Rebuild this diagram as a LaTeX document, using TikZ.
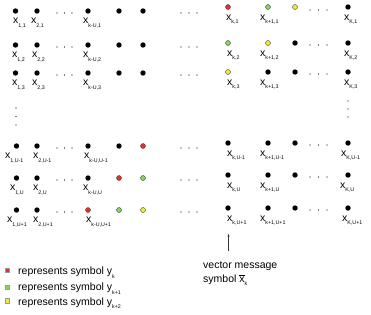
\documentclass[tikz,border=0pt]{standalone}
\usepackage{fontspec}
\setmainfont{Liberation Sans}
\usetikzlibrary{arrows.meta}
\definecolor{cred}{HTML}{E5302E}
\definecolor{cgreen}{HTML}{88D65C}
\definecolor{cyellow}{HTML}{EEEA3C}
\newcommand{\xl}[1]{x\raisebox{-3.5pt}{\fontsize{5.3}{5.3}\selectfont #1}}
\newcommand{\yl}[1]{y\raisebox{-3.5pt}{\fontsize{5.3}{5.3}\selectfont #1}}
\begin{document}
\begin{tikzpicture}[x=1pt,y=-1pt,
  bdot/.style={circle,fill=black,inner sep=0pt,minimum size=5.4pt},
  cdot/.style={circle,draw=black!75,line width=0.4pt,inner sep=0pt,minimum size=5pt},
  sdot/.style={circle,fill=black,inner sep=0pt,minimum size=1.4pt},
  lbl/.style={anchor=base west,inner sep=0pt,font=\fontsize{10.5}{12}\selectfont},
  legsq/.style={draw=black!40,line width=0.2pt,inner sep=0pt,minimum size=4.5pt},
  legtxt/.style={anchor=base west,inner sep=0pt,font=\fontsize{10.5}{12}\selectfont}]
\useasboundingbox (0,0) rectangle (371,314);
% ---- row 1
\node[bdot] (a1) at (15.5,11) {};
\node[bdot] (b1) at (37,11) {};
\node[bdot] (c1) at (88,11) {};
\node[bdot] (d1) at (119,11) {};
\node[bdot] (e1) at (143,11) {};
\node[cdot,fill=cred] (f1) at (228,7) {};
\node[cdot,fill=cgreen] (g1) at (268,7) {};
\node[cdot,fill=cyellow] (h1) at (295,7) {};
\node[bdot] (i1) at (348,7) {};
% ---- row 2
\node[bdot] (a2) at (15.5,45) {};
\node[bdot] (b2) at (37,45) {};
\node[bdot] (c2) at (88,45) {};
\node[bdot] (d2) at (119,45) {};
\node[bdot] (e2) at (143,45) {};
\node[cdot,fill=cgreen] (f2) at (228,43) {};
\node[cdot,fill=cyellow] (g2) at (268,43) {};
\node[bdot] (h2) at (295,43) {};
\node[bdot] (i2) at (348,43) {};
% ---- row 3
\node[bdot] (a3) at (15.5,73) {};
\node[bdot] (b3) at (37,73) {};
\node[bdot] (c3) at (88,73) {};
\node[bdot] (d3) at (119,73) {};
\node[bdot] (e3) at (143,73) {};
\node[cdot,fill=cyellow] (f3) at (228,72) {};
\node[bdot] (g3) at (268,72) {};
\node[bdot] (h3) at (295,72) {};
\node[bdot] (i3) at (348,72) {};
% ---- row U-1
\node[bdot] (a4) at (16.5,146) {};
\node[bdot] (b4) at (37,146) {};
\node[bdot] (c4) at (88,146) {};
\node[bdot] (d4) at (119,146) {};
\node[cdot,fill=cred] (e4) at (143,146) {};
\node[bdot] (f4) at (228,143) {};
\node[bdot] (g4) at (268,143) {};
\node[bdot] (h4) at (295,143) {};
\node[bdot] (i4) at (348,143) {};
% ---- row U
\node[bdot] (a5) at (16.5,178) {};
\node[bdot] (b5) at (37,178) {};
\node[bdot] (c5) at (88,178) {};
\node[cdot,fill=cred] (d5) at (119,178) {};
\node[cdot,fill=cgreen] (e5) at (143,178) {};
\node[bdot] (f5) at (228,175) {};
\node[bdot] (g5) at (268,175) {};
\node[bdot] (h5) at (295,175) {};
\node[bdot] (i5) at (348,175) {};
% ---- row U+1
\node[bdot] (a6) at (16.5,210) {};
\node[bdot] (b6) at (37,210) {};
\node[cdot,fill=cred] (c6) at (88,210) {};
\node[cdot,fill=cgreen] (d6) at (119,210) {};
\node[cdot,fill=cyellow] (e6) at (143,210) {};
\node[bdot] (f6) at (228,208) {};
\node[bdot] (g6) at (268,208) {};
\node[bdot] (h6) at (295,208) {};
\node[bdot] (i6) at (348,208) {};
% ---- horizontal ellipses
\foreach \r/\yl/\yr in {1/13/10,2/47/45,3/75/74,4/148/145,5/180/177,6/212/210}{
  \node[sdot] (la\r) at (57,\yl) {};
  \node[sdot] (lb\r) at (64.5,\yl) {};
  \node[sdot] (lc\r) at (72,\yl) {};
  \node[sdot] (ma\r) at (181,\yl) {};
  \node[sdot] (mb\r) at (189,\yl) {};
  \node[sdot] (mc\r) at (197,\yl) {};
  \node[sdot] (ra\r) at (310,\yr) {};
  \node[sdot] (rb\r) at (318.5,\yr) {};
  \node[sdot] (rc\r) at (327,\yr) {};
}
% ---- vertical ellipses
\node[sdot] (va1) at (16,108) {};
\node[sdot] (va2) at (16,116.5) {};
\node[sdot] (va3) at (16,125) {};
\node[sdot] (vb1) at (348,101) {};
\node[sdot] (vb2) at (348,109) {};
\node[sdot] (vb3) at (348,117) {};
% ---- labels row 1
\node[lbl] (la1x) at (13,23.5) {\xl{1,1}};
\node[lbl] (lb1x) at (31,23.5) {\xl{2,1}};
\node[lbl] (lc1x) at (83,23.5) {\xl{k-U,1}};
\node[lbl] (lf1x) at (226,20) {\xl{k,1}};
\node[lbl] (lg1x) at (260,20) {\xl{k+1,1}};
\node[lbl] (li1x) at (344,20) {\xl{K,1}};
% ---- labels row 2
\node[lbl] (la2x) at (12,57.5) {\xl{1,2}};
\node[lbl] (lb2x) at (32,57.5) {\xl{2,2}};
\node[lbl] (lc2x) at (83,57.5) {\xl{k-U,2}};
\node[lbl] (lf2x) at (227,56) {\xl{k,2}};
\node[lbl] (lg2x) at (260,56) {\xl{k+1,2}};
\node[lbl] (li2x) at (344,56) {\xl{K,2}};
% ---- labels row 3
\node[lbl] (la3x) at (12,85.5) {\xl{1,3}};
\node[lbl] (lb3x) at (32,85.5) {\xl{2,3}};
\node[lbl] (lc3x) at (83,85.5) {\xl{k-U,3}};
\node[lbl] (lf3x) at (227,85) {\xl{k,3}};
\node[lbl] (lg3x) at (260,85) {\xl{k+1,3}};
\node[lbl] (li3x) at (344,85) {\xl{K,3}};
% ---- labels row U-1
\node[lbl] (la4x) at (5,158.5) {\xl{1,U-1}};
\node[lbl] (lb4x) at (33,158.5) {\xl{2,U-1}};
\node[lbl] (lc4x) at (84,158.5) {\xl{k-U,U-1}};
\node[lbl] (lf4x) at (227,156) {\xl{k,U-1}};
\node[lbl] (lg4x) at (260,156) {\xl{k+1,U-1}};
\node[lbl] (li4x) at (341,156) {\xl{K,U-1}};
% ---- labels row U
\node[lbl] (la5x) at (10,190.5) {\xl{1,U}};
\node[lbl] (lb5x) at (33,190.5) {\xl{2,U}};
\node[lbl] (lc5x) at (83,190.5) {\xl{k-U,U}};
\node[lbl] (lf5x) at (227,188) {\xl{k,U}};
\node[lbl] (lg5x) at (260,188) {\xl{k+1,U}};
\node[lbl] (li5x) at (340,188) {\xl{K,U}};
% ---- labels row U+1
\node[lbl] (la6x) at (7,222.5) {\xl{1,U+1}};
\node[lbl] (lb6x) at (33,222.5) {\xl{2,U+1}};
\node[lbl] (lc6x) at (86,222.5) {\xl{k-U,U+1}};
\node[lbl] (lf6x) at (227,221) {\xl{k,U+1}};
\node[lbl] (lg6x) at (260,221) {\xl{k+1,U+1}};
\node[lbl] (li6x) at (342,221) {\xl{K,U+1}};
% ---- vector message annotation
\node[legtxt] (vm) at (203,268.5) {vector message};
\node[legtxt] (vs) at (203,282) {symbol $\overline{\mbox{x}}$\raisebox{-3.5pt}{\fontsize{5.3}{5.3}\selectfont k}};
\coordinate (arrS) at (228.5,251);
\coordinate (arrE) at (228.5,234);
\draw[line width=0.35pt,black!80,-{Stealth[length=2.5pt,width=2pt]}] (arrS) -- (arrE);
% ---- legend
\node[legsq,fill=cred] (sq1) at (7,270) {};
\node[legsq,fill=cgreen] (sq2) at (7,287) {};
\node[legsq,fill=cyellow] (sq3) at (7,300.5) {};
\node[legtxt] (t1) at (18,274.5) {represents symbol \yl{k}};
\node[legtxt] (t2) at (18,290.5) {represents symbol \yl{k+1}};
\node[legtxt] (t3) at (18,305) {represents symbol \yl{k+2}};
\end{tikzpicture}
\end{document}
